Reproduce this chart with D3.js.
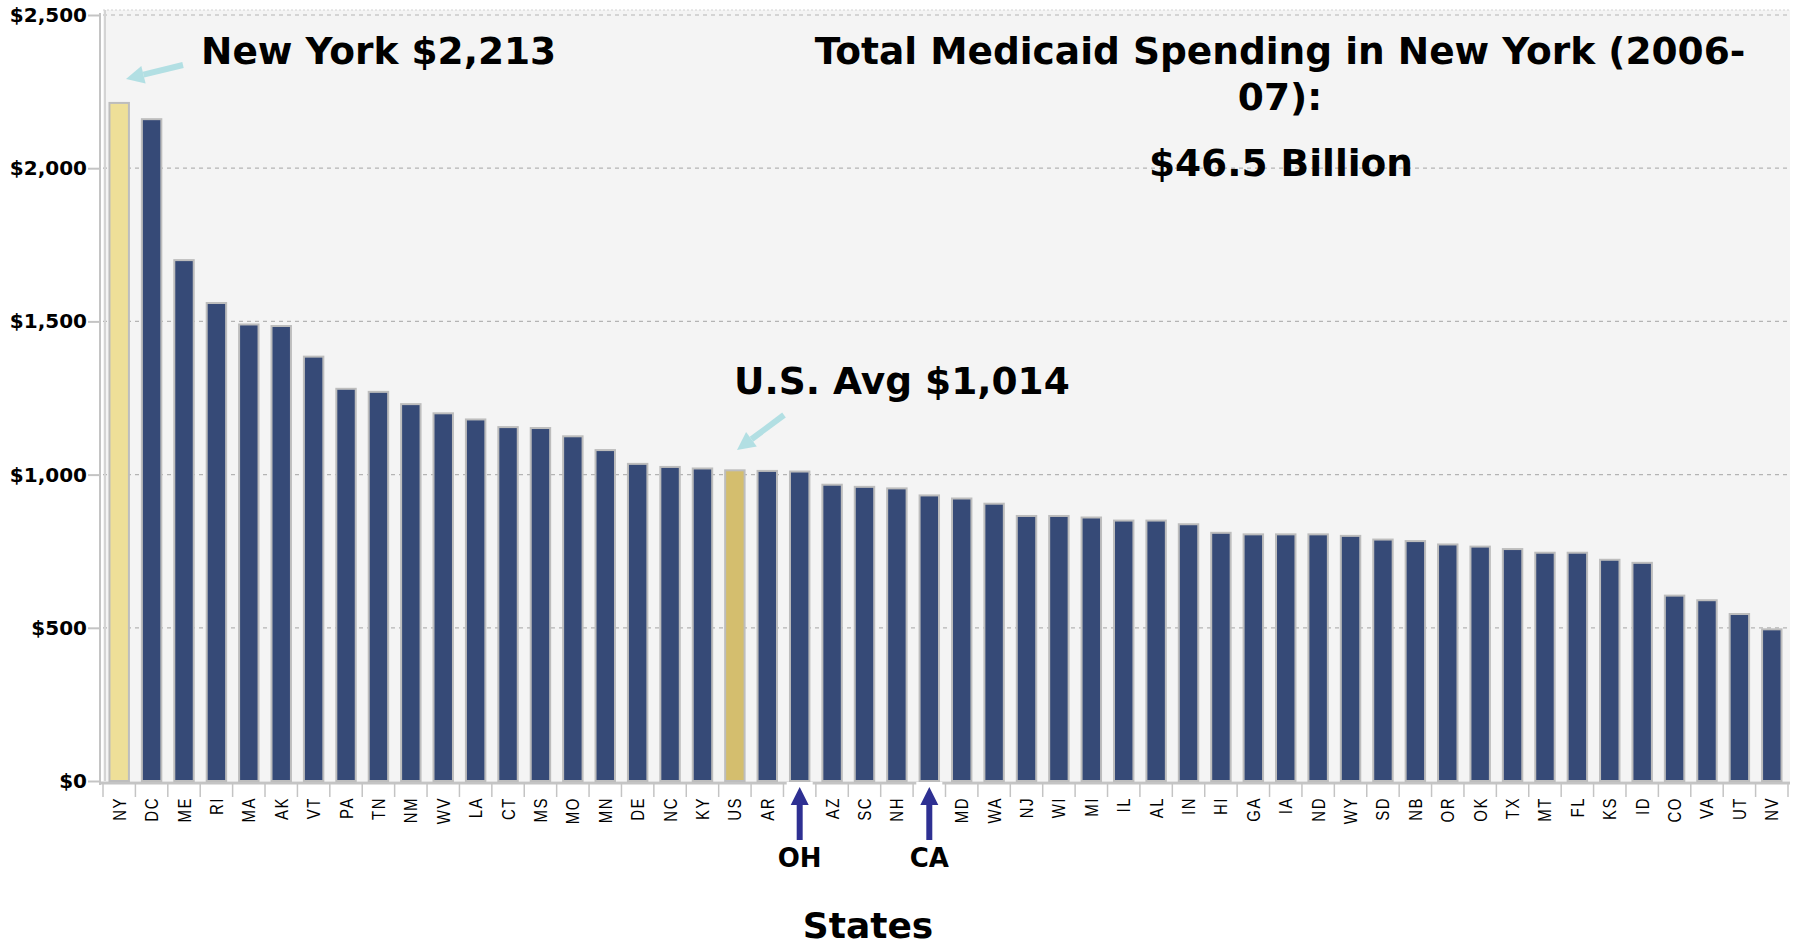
<!DOCTYPE html>
<html lang="en">
<head>
  <meta charset="UTF-8">
  <title>Medicaid spending per capita</title>
  <script src="https://cdn.jsdelivr.net/npm/d3@7"></script>
  <style>
    body { margin: 0; background: #fff; }
    svg { display: block; }
  </style>
</head>
<body>
  <script>
    // states, sorted by spending
    const states = ['NY','DC','ME','RI','MA','AK','VT','PA','TN','NM','WV','LA','CT','MS','MO','MN','DE','NC','KY','US','AR','OH','AZ','SC','NH','CA','MD','WA','NJ','WI','MI','IL','AL','IN','HI','GA','IA','ND','WY','SD','NB','OR','OK','TX','MT','FL','KS','ID','CO','VA','UT','NV']
    const spending = [2213,2160,1700,1560,1490,1485,1385,1280,1270,1230,1200,1180,1155,1152,1125,1080,1035,1025,1020,1014,1012,1010,967,960,955,932,922,905,865,865,860,850,850,838,810,805,805,805,800,788,783,772,765,757,745,745,722,712,605,590,545,495]
    const yTicks = [0, 500, 1000, 1500, 2000, 2500]
    const pointedStates = ['OH', 'CA']

    const W = 1798, H = 945
    const pLeft = 103, pRight = 1788, pTop = 15, pBottom = 781

    const svg = d3.select('body').append('svg')
      .attr('width', W)
      .attr('height', H)

    const x = d3.scaleBand().domain(states).range([pLeft, pRight]).paddingInner(0.4).paddingOuter(0.2)
    const y = d3.scaleLinear().domain([0, 2500]).range([pBottom, pTop])

    // plot background
    svg.append('rect')
      .attr('x', pLeft)
      .attr('y', pTop - 5)
      .attr('width', pRight - pLeft + 2)
      .attr('height', pBottom - pTop + 5)
      .attr('fill', '#f4f4f4')

    // grid lines
    svg.append('g')
      .selectAll('line')
      .data(yTicks.filter(d => d > 0))
      .join('line')
      .attr('x1', pLeft)
      .attr('x2', pRight + 2)
      .attr('y1', d => y(d))
      .attr('y2', d => y(d))
      .attr('stroke', '#b4b4b4')
      .attr('stroke-width', 1.2)
      .attr('stroke-dasharray', '4,4')

    // top border
    svg.append('line')
      .attr('x1', pLeft).attr('x2', pRight + 2)
      .attr('y1', pTop - 5).attr('y2', pTop - 5)
      .attr('stroke', '#d0d0d0')
      .attr('stroke-dasharray', '2,2')

    // left frame (double line)
    svg.append('line')
      .attr('x1', pLeft - 3).attr('x2', pLeft - 3)
      .attr('y1', pTop - 2).attr('y2', pBottom + 4)
      .attr('stroke', '#c4c4c4').attr('stroke-width', 2)
    svg.append('line')
      .attr('x1', pLeft + 2).attr('x2', pLeft + 2)
      .attr('y1', pTop - 5).attr('y2', pBottom)
      .attr('stroke', '#d4d4d4').attr('stroke-width', 2)

    // floor
    svg.append('line')
      .attr('x1', pLeft - 3).attr('x2', pRight + 2)
      .attr('y1', pBottom + 2).attr('y2', pBottom + 2)
      .attr('stroke', '#c4c4c4').attr('stroke-width', 3)

    // y axis
    const yAxis = d3.axisLeft(y)
      .tickValues(yTicks)
      .tickSize(12)
      .tickPadding(1)
      .tickFormat(d => '$' + d3.format(',')(d))

    const gy = svg.append('g')
      .attr('transform', `translate(${pLeft - 3},0)`)
      .call(yAxis)
    gy.select('.domain').remove()
    gy.selectAll('line').attr('stroke', '#c4c4c4').attr('stroke-width', 2)
    gy.selectAll('text')
      .attr('font-family', 'DejaVu Sans')
      .attr('font-weight', 'bold')
      .attr('font-size', 20)
      .attr('fill', '#000')

    // x ticks at band edges
    const step = x.step()
    const edges = states.map(s => x(s) - x.paddingInner() * step / 2)
    edges.push(x(states[states.length - 1]) + x.bandwidth() + x.paddingInner() * step / 2)
    svg.append('g')
      .selectAll('line')
      .data(edges)
      .join('line')
      .attr('x1', d => d).attr('x2', d => d)
      .attr('y1', pBottom + 3).attr('y2', pBottom + 16)
      .attr('stroke', '#c4c4c4').attr('stroke-width', 1.5)

    // x labels
    svg.append('g')
      .selectAll('text')
      .data(states.filter(s => !pointedStates.includes(s)))
      .join('text')
      .attr('transform', d => `translate(${x(d) + x.bandwidth() / 2 + 6.5},${pBottom + 16}) rotate(-90) scale(1,1.2)`)
      .attr('text-anchor', 'end')
      .attr('font-family', 'Liberation Sans')
      .attr('font-size', 15)
      .attr('letter-spacing', 1.5)
      .text(d => d)

    // bars
    svg.append('g')
      .selectAll('rect')
      .data(states)
      .join('rect')
      .attr('x', d => x(d))
      .attr('y', (d, i) => y(spending[i]))
      .attr('width', x.bandwidth())
      .attr('height', (d, i) => pBottom - y(spending[i]))
      .attr('fill', d => d === 'NY' ? '#eedf98' : d === 'US' ? '#d4be6e' : '#364a77')
      .attr('stroke', '#bdbdbd')
      .attr('stroke-width', 2)

    // arrows for OH and CA
    pointedStates.forEach(s => {
      const cx = x(s) + x.bandwidth() / 2
      svg.append('rect')
        .attr('x', cx - 13).attr('y', pBottom + 1)
        .attr('width', 26).attr('height', 15)
        .attr('fill', '#fff')
      svg.append('line')
        .attr('x1', cx).attr('x2', cx)
        .attr('y1', pBottom + 59).attr('y2', pBottom + 20)
        .attr('stroke', '#2e3092').attr('stroke-width', 6)
      svg.append('path')
        .attr('d', `M${cx},${pBottom + 6} L${cx - 9},${pBottom + 24} L${cx + 9},${pBottom + 24} Z`)
        .attr('fill', '#2e3092')
      svg.append('text')
        .attr('x', cx)
        .attr('y', pBottom + 86)
        .attr('text-anchor', 'middle')
        .attr('font-family', 'DejaVu Sans')
        .attr('font-weight', 'bold')
        .attr('font-size', 26)
        .text(s)
    })

    // axis title
    svg.append('text')
      .attr('x', 868)
      .attr('y', 938)
      .attr('text-anchor', 'middle')
      .attr('font-family', 'DejaVu Sans')
      .attr('font-weight', 'bold')
      .attr('font-size', 36)
      .text('States')

    // callout arrows
    function callout(x1, y1, x2, y2) {
      const a = Math.atan2(y2 - y1, x2 - x1)
      const hl = 18, hw = 9
      const bx = x2 - hl * Math.cos(a), by = y2 - hl * Math.sin(a)
      svg.append('line')
        .attr('x1', x1).attr('y1', y1).attr('x2', bx).attr('y2', by)
        .attr('stroke', '#b2dfe3').attr('stroke-width', 6)
      svg.append('path')
        .attr('d', `M${x2},${y2} L${bx + hw * Math.sin(a)},${by - hw * Math.cos(a)} L${bx - hw * Math.sin(a)},${by + hw * Math.cos(a)} Z`)
        .attr('fill', '#b2dfe3')
    }
    callout(183, 65, 126, 79)
    callout(784, 415, 737, 450)

    const note = (txt, tx, ty, anchor) => svg.append('text')
      .attr('x', tx).attr('y', ty)
      .attr('text-anchor', anchor)
      .attr('font-family', 'DejaVu Sans')
      .attr('font-weight', 'bold')
      .attr('font-size', 37.5)
      .attr('fill', '#000')
      .text(txt)

    note('New York $2,213', 201, 64, 'start')
    note('U.S. Avg $1,014', 734, 394, 'start')
    note('Total Medicaid Spending in New York (2006-', 1280, 64, 'middle')
    note('07):', 1280, 110, 'middle')
    note('$46.5 Billion', 1281, 176, 'middle')
  </script>
</body>
</html>
